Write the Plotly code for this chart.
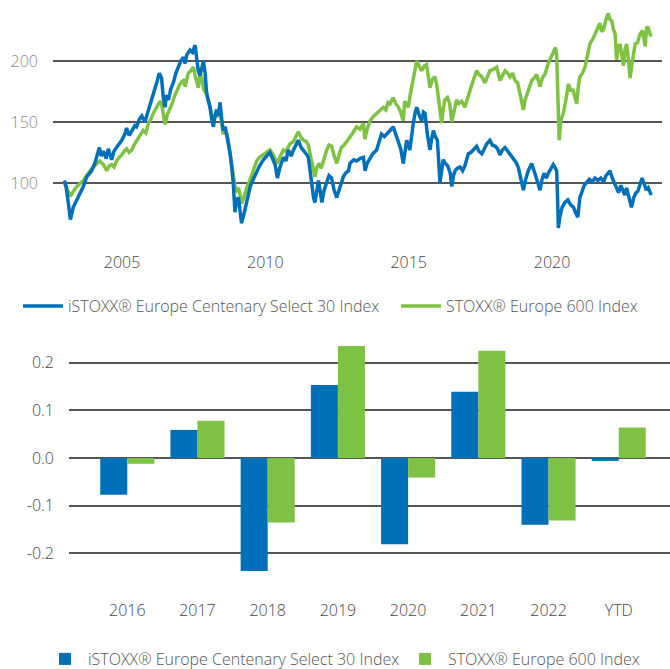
import plotly.graph_objects as go

BLUE = "#0070B8"
GREEN = "#7DC242"

series_names = ["iSTOXX® Europe Centenary Select 30 Index", "STOXX® Europe 600 Index"]

# Index levels (decimal year, level)
centenary_t = [2002.99, 2003.05, 2003.12, 2003.2, 2003.3, 2003.42, 2003.55, 2003.65, 2003.77, 2003.94,
               2004.05, 2004.12, 2004.21, 2004.28, 2004.35, 2004.45, 2004.52, 2004.64, 2004.72, 2004.81,
               2004.99, 2005.1, 2005.16, 2005.25, 2005.34, 2005.45, 2005.51, 2005.6, 2005.69, 2005.8,
               2005.9, 2005.98, 2006.07, 2006.15, 2006.22, 2006.3, 2006.38, 2006.44, 2006.5, 2006.55,
               2006.62, 2006.7, 2006.79, 2006.88, 2006.97, 2007.05, 2007.14, 2007.2, 2007.26, 2007.37,
               2007.46, 2007.55, 2007.6, 2007.66, 2007.72, 2007.78, 2007.84, 2007.9, 2007.95, 2008.0,
               2008.07, 2008.13, 2008.19, 2008.25, 2008.3, 2008.36, 2008.42, 2008.48, 2008.53, 2008.6,
               2008.65, 2008.72, 2008.77, 2008.83, 2008.88, 2008.94, 2009.0, 2009.06, 2009.12, 2009.17,
               2009.25, 2009.35, 2009.42, 2009.47, 2009.58, 2009.7, 2009.8, 2009.93, 2010.05, 2010.16,
               2010.25, 2010.34, 2010.42, 2010.5, 2010.63, 2010.72, 2010.8, 2010.9, 2010.98, 2011.08,
               2011.15, 2011.25, 2011.33, 2011.42, 2011.5, 2011.56, 2011.62, 2011.68, 2011.73, 2011.8,
               2011.85, 2011.92, 2011.97, 2012.05, 2012.14, 2012.22, 2012.31, 2012.4, 2012.49, 2012.58,
               2012.65, 2012.72, 2012.8, 2012.9, 2012.95, 2013.08, 2013.18, 2013.3, 2013.42, 2013.48,
               2013.55, 2013.65, 2013.75, 2013.88, 2014.0, 2014.05, 2014.15, 2014.25, 2014.35, 2014.46,
               2014.55, 2014.64, 2014.72, 2014.81, 2014.88, 2014.93, 2015.04, 2015.1, 2015.16, 2015.22,
               2015.28, 2015.36, 2015.45, 2015.52, 2015.57, 2015.65, 2015.74, 2015.8, 2015.86, 2015.93,
               2016.0, 2016.04, 2016.09, 2016.15, 2016.2, 2016.28, 2016.36, 2016.45, 2016.5, 2016.56,
               2016.62, 2016.7, 2016.79, 2016.88, 2016.96, 2017.08, 2017.17, 2017.25, 2017.37, 2017.45,
               2017.55, 2017.64, 2017.72, 2017.83, 2017.92, 2018.02, 2018.1, 2018.18, 2018.27, 2018.36,
               2018.45, 2018.53, 2018.6, 2018.65, 2018.74, 2018.82, 2018.92, 2019.0, 2019.08, 2019.17,
               2019.29, 2019.36, 2019.46, 2019.52, 2019.58, 2019.64, 2019.72, 2019.8, 2019.87, 2019.95,
               2020.04, 2020.12, 2020.16, 2020.19, 2020.22, 2020.27, 2020.35, 2020.45, 2020.55, 2020.65,
               2020.75, 2020.83, 2020.9, 2020.97, 2021.05, 2021.12, 2021.2, 2021.3, 2021.4, 2021.5,
               2021.6, 2021.7, 2021.8, 2021.88, 2021.96, 2022.02, 2022.1, 2022.17, 2022.25, 2022.32,
               2022.4, 2022.48, 2022.54, 2022.6, 2022.68, 2022.77, 2022.85, 2022.93, 2022.99, 2023.07,
               2023.14, 2023.2, 2023.29, 2023.36, 2023.42, 2023.46]
centenary_v = [102, 97, 85, 70, 80, 86, 92, 97, 105, 110,
               116, 121, 129, 122, 126, 120, 128, 119, 126, 129,
               135, 140, 145, 139, 143, 147, 146, 152, 155, 150,
               158, 164, 170, 176, 183, 190, 186, 170, 162, 172,
               168, 177, 182, 190, 195, 200, 203, 198, 205, 209,
               207, 213, 203, 192, 188, 196, 200, 190, 174, 168,
               162, 152, 146, 156, 160, 155, 166, 152, 143, 146,
               140, 130, 124, 112, 100, 76, 86, 88, 78, 67,
               74, 84, 92, 97, 103, 110, 114, 119, 122, 125,
               120, 115, 104, 112, 121, 118, 127, 122, 127, 131,
               135, 129, 127, 124, 121, 110, 97, 88, 84, 93,
               102, 92, 84, 94, 100, 106, 104, 94, 88, 95,
               101, 105, 108, 110, 116, 119, 118, 120, 121, 110,
               116, 120, 124, 127, 135, 140, 138, 141, 143, 146,
               140, 135, 128, 116, 126, 135, 127, 140, 149, 157,
               162, 156, 151, 158, 157, 140, 127, 136, 143, 138,
               135, 120, 100, 110, 119, 116, 114, 108, 97, 106,
               110, 112, 113, 110, 114, 124, 125, 127, 130, 126,
               124, 128, 132, 135, 131, 130, 128, 123, 127, 129,
               126, 124, 121, 119, 117, 113, 102, 94, 103, 110,
               116, 111, 105, 99, 94, 102, 108, 104, 108, 111,
               115, 112, 110, 90, 63, 72, 80, 84, 86, 82,
               80, 75, 72, 88, 93, 98, 100, 103, 101, 104,
               102, 104, 101, 106, 108, 110, 104, 100, 95, 92,
               98, 94, 90, 96, 87, 80, 88, 92, 93, 100,
               104, 100, 94, 96, 92, 90]

stoxx_t = [2002.99, 2003.05, 2003.12, 2003.2, 2003.3, 2003.42, 2003.55, 2003.65, 2003.77, 2003.88,
           2004.0, 2004.12, 2004.22, 2004.35, 2004.47, 2004.55, 2004.64, 2004.72, 2004.81, 2004.9,
           2004.99, 2005.08, 2005.16, 2005.25, 2005.34, 2005.42, 2005.51, 2005.6, 2005.74, 2005.83,
           2005.92, 2006.0, 2006.09, 2006.18, 2006.27, 2006.33, 2006.38, 2006.45, 2006.5, 2006.58,
           2006.67, 2006.75, 2006.83, 2006.91, 2007.0, 2007.08, 2007.14, 2007.2, 2007.31, 2007.4,
           2007.49, 2007.55, 2007.6, 2007.66, 2007.72, 2007.78, 2007.84, 2007.95, 2008.02, 2008.07,
           2008.13, 2008.19, 2008.25, 2008.3, 2008.36, 2008.42, 2008.48, 2008.53, 2008.6, 2008.65,
           2008.72, 2008.77, 2008.83, 2008.88, 2008.94, 2009.0, 2009.06, 2009.12, 2009.17, 2009.25,
           2009.35, 2009.47, 2009.58, 2009.7, 2009.8, 2009.93, 2010.05, 2010.16, 2010.25, 2010.34,
           2010.42, 2010.5, 2010.63, 2010.72, 2010.8, 2010.86, 2010.98, 2011.08, 2011.15, 2011.25,
           2011.33, 2011.42, 2011.5, 2011.56, 2011.62, 2011.68, 2011.73, 2011.8, 2011.88, 2011.95,
           2012.05, 2012.14, 2012.22, 2012.31, 2012.4, 2012.49, 2012.58, 2012.65, 2012.75, 2012.85,
           2012.95, 2013.05, 2013.18, 2013.3, 2013.42, 2013.47, 2013.55, 2013.65, 2013.75, 2013.88,
           2014.0, 2014.11, 2014.2, 2014.28, 2014.35, 2014.46, 2014.55, 2014.64, 2014.72, 2014.81,
           2014.86, 2014.93, 2014.99, 2015.05, 2015.1, 2015.18, 2015.28, 2015.36, 2015.45, 2015.55,
           2015.62, 2015.68, 2015.74, 2015.83, 2015.92, 2015.98, 2016.03, 2016.1, 2016.15, 2016.2,
           2016.26, 2016.35, 2016.43, 2016.5, 2016.58, 2016.67, 2016.75, 2016.85, 2016.96, 2017.05,
           2017.14, 2017.25, 2017.37, 2017.45, 2017.55, 2017.66, 2017.75, 2017.83, 2017.95, 2018.07,
           2018.14, 2018.18, 2018.27, 2018.36, 2018.45, 2018.53, 2018.62, 2018.71, 2018.8, 2018.88,
           2018.95, 2019.0, 2019.06, 2019.12, 2019.22, 2019.29, 2019.38, 2019.46, 2019.52, 2019.58,
           2019.66, 2019.75, 2019.87, 2019.96, 2020.04, 2020.12, 2020.16, 2020.19, 2020.22, 2020.25,
           2020.3, 2020.39, 2020.46, 2020.52, 2020.57, 2020.65, 2020.74, 2020.8, 2020.86, 2020.92,
           2020.97, 2021.06, 2021.15, 2021.24, 2021.32, 2021.42, 2021.55, 2021.62, 2021.67, 2021.73,
           2021.8, 2021.88, 2021.96, 2022.02, 2022.08, 2022.14, 2022.2, 2022.25, 2022.3, 2022.37,
           2022.43, 2022.49, 2022.55, 2022.6, 2022.67, 2022.72, 2022.78, 2022.85, 2022.9, 2022.98,
           2023.07, 2023.15, 2023.2, 2023.25, 2023.3, 2023.36, 2023.42, 2023.46]
stoxx_v = [100, 97, 92, 89, 93, 97, 100, 102, 106, 110,
           113, 116, 118, 115, 110, 114, 115, 113, 118, 121,
           123, 126, 128, 125, 127, 131, 135, 138, 143, 141,
           149, 152, 157, 161, 165, 167, 165, 155, 148, 156,
           160, 165, 171, 176, 180, 183, 184, 179, 190, 192,
           195, 188, 184, 178, 190, 186, 177, 173, 168, 162,
           156, 149, 156, 154, 158, 157, 148, 140, 143, 141,
           133, 124, 114, 105, 97, 94, 96, 90, 83, 88,
           96, 103, 110, 118, 121, 123, 125, 127, 124, 120,
           116, 121, 127, 126, 130, 132, 134, 138, 142, 137,
           135, 134, 131, 124, 118, 110, 105, 113, 116, 112,
           120, 127, 131, 130, 122, 116, 124, 129, 131, 134,
           137, 141, 146, 144, 149, 136, 144, 151, 154, 157,
           160, 162, 160, 166, 165, 170, 165, 162, 158, 151,
           167, 164, 162, 172, 179, 190, 200, 196, 192, 196,
           197, 188, 178, 185, 187, 180, 170, 160, 149, 160,
           168, 170, 165, 150, 160, 168, 165, 167, 162, 170,
           176, 184, 192, 189, 187, 182, 187, 192, 193, 195,
           188, 184, 188, 192, 190, 187, 190, 184, 182, 173,
           165, 160, 168, 172, 180, 184, 186, 189, 184, 179,
           186, 189, 198, 203, 208, 211, 205, 180, 150, 135,
           150, 157, 165, 174, 181, 176, 176, 170, 165, 180,
           187, 190, 195, 205, 214, 218, 225, 228, 231, 224,
           226, 234, 239, 234, 233, 226, 222, 201, 210, 214,
           205, 196, 210, 214, 200, 186, 196, 206, 214, 215,
           222, 225, 218, 212, 228, 227, 222, 220]

year_ticks = [2005, 2010, 2015, 2020]
level_ticks = [100, 150, 200]

# Annual returns
bar_categories = ["2016", "2017", "2018", "2019", "2020", "2021", "2022", "YTD"]
centenary_returns = [-0.077, 0.059, -0.237, 0.153, -0.181, 0.139, -0.140, -0.006]
stoxx_returns = [-0.012, 0.078, -0.135, 0.235, -0.041, 0.225, -0.131, 0.064]
return_ticks = [-0.2, -0.1, 0.0, 0.1, 0.2]
return_ticktext = ["-0.2", "-0.1", "0.0", "0.1", "0.2"]

W, H = 670, 669
FONT = "Open Sans"

fig = go.Figure()
fig.add_trace(go.Scatter(x=stoxx_t, y=stoxx_v, name=series_names[1], mode="lines",
                         line=dict(color=GREEN, width=3.5), xaxis="x", yaxis="y", legend="legend"))
fig.add_trace(go.Scatter(x=centenary_t, y=centenary_v, name=series_names[0], mode="lines",
                         line=dict(color=BLUE, width=3.5), xaxis="x", yaxis="y", legend="legend",
                         legendwidth=323))
fig.add_trace(go.Bar(x=bar_categories, y=centenary_returns, name=series_names[0],
                     marker=dict(color=BLUE, line=dict(width=0)), xaxis="x2", yaxis="y2",
                     legend="legend2", legendwidth=309))
fig.add_trace(go.Bar(x=bar_categories, y=stoxx_returns, name=series_names[1],
                     marker=dict(color=GREEN, line=dict(width=0)), xaxis="x2", yaxis="y2",
                     legend="legend2"))

grid = dict(showgrid=True, gridcolor="#555555", gridwidth=1.5, zeroline=False, showline=False, ticks="")

fig.update_layout(
    width=W, height=H,
    margin=dict(l=0, r=0, t=0, b=0, autoexpand=False),
    paper_bgcolor="white", plot_bgcolor="white",
    font=dict(family=FONT, color="#444444", size=16, weight=300),
    barmode="group", bargap=0.23, bargroupgap=0,
    xaxis=dict(domain=[53 / W, 662 / W], range=[2002.593, 2023.835], tickvals=year_ticks,
               showgrid=False, zeroline=False, showline=False, ticks="", anchor="y",
               ticklabelstandoff=1, tickfont=dict(size=16, color="#444444")),
    yaxis=dict(domain=[1 - 250 / H, 1], range=[45, 250], tickvals=level_ticks, anchor="x",
               tickfont=dict(size=16, color="#888888"), ticklabelstandoff=14, **grid),
    xaxis2=dict(domain=[69 / W, 1], range=[-0.83, 7.73], type="category", anchor="y2",
                showgrid=False, zeroline=False, showline=False, ticks="", ticklabelstandoff=1,
                tickfont=dict(size=16, color="#444444")),
    yaxis2=dict(domain=[1 - 598 / H, 1 - 330 / H], range=[-0.2936, 0.2686], tickvals=return_ticks,
                ticktext=return_ticktext, anchor="x2", ticklabelstandoff=14,
                tickfont=dict(size=16, color="#444444"), **grid),
    legend=dict(orientation="h", x=18 / W, xanchor="left", y=1 - 306 / H, yanchor="middle",
                traceorder="reversed", itemwidth=40, font=dict(size=16, color="#555555"),
                bgcolor="rgba(0,0,0,0)"),
    legend2=dict(orientation="h", x=42 / W, xanchor="left", y=1 - 659 / H, yanchor="middle",
                 traceorder="normal", itemwidth=36, font=dict(size=16, color="#555555"),
                 bgcolor="rgba(0,0,0,0)"),
)

fig.write_html("out.html", config={"displayModeBar": False},
               post_script="document.body.style.margin='0';")
